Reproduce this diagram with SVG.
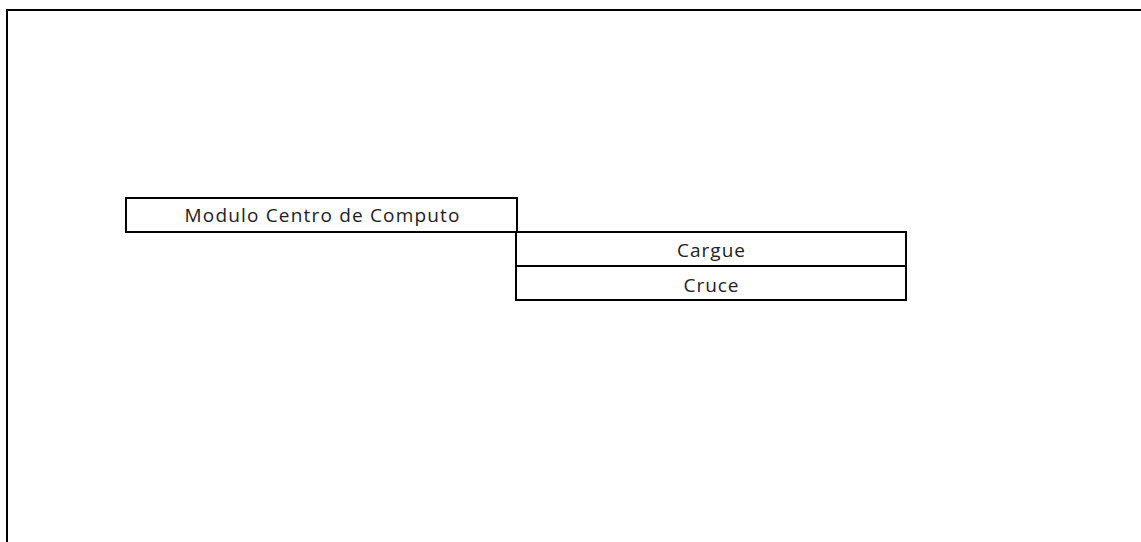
<svg xmlns="http://www.w3.org/2000/svg" width="1141" height="542" viewBox="0 0 1141 542">
<style>
.box{fill:#fff;stroke:#000;stroke-width:2}
.lbl{font-family:"Open Sans","Liberation Sans",sans-serif;font-size:19px;fill:#222;text-anchor:middle}
.frame{fill:none;stroke:#000;stroke-width:2}
</style>
<rect width="1141" height="542" fill="#fff"/>
<path class="frame" d="M7,542 V10 H1141"/>
<g id="connectors"></g>
<g id="node-modulo">
<rect class="box" x="126" y="198" width="391" height="34"/>
<text class="lbl" x="322" y="222" textLength="275" lengthAdjust="spacing">Modulo Centro de Computo</text>
</g>
<g id="node-cargue">
<rect class="box" x="516" y="232" width="390" height="34"/>
<text class="lbl" x="711" y="256.5" textLength="68" lengthAdjust="spacing">Cargue</text>
</g>
<g id="node-cruce">
<rect class="box" x="516" y="266" width="390" height="34"/>
<text class="lbl" x="711" y="291.5" textLength="55" lengthAdjust="spacing">Cruce</text>
</g>
</svg>
